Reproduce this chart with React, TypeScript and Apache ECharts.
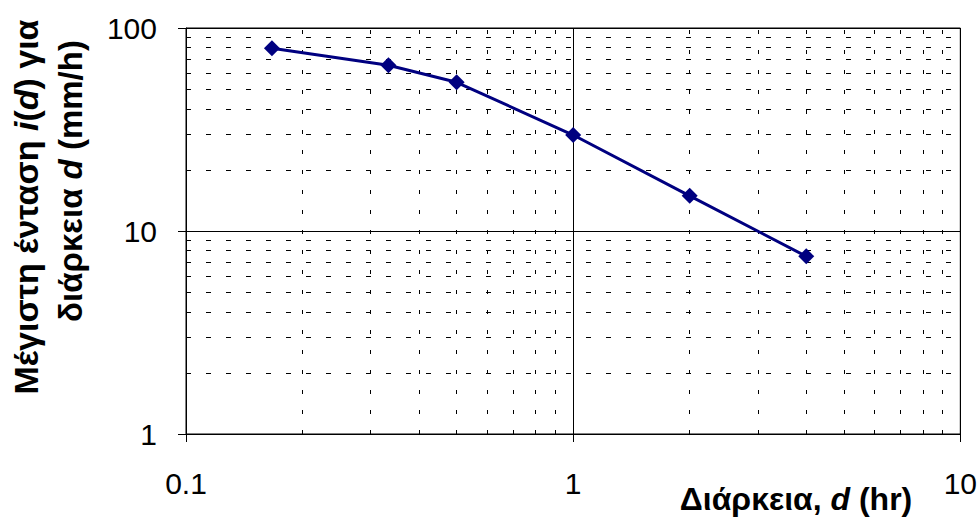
import React, { useEffect, useRef } from "react";
import * as echarts from "echarts";

const durations = [0.1667, 0.3333, 0.5, 1, 2, 4];
const intensities = [79.5, 65.5, 54, 29.7, 14.9, 7.5];
const minorX = [0.2, 0.3, 0.4, 0.5, 0.6, 0.7, 0.8, 0.9, 2, 3, 4, 5, 6, 7, 8, 9];
const minorY = [2, 3, 4, 5, 6, 7, 8, 9, 20, 30, 40, 50, 60, 70, 80, 90];
const xTitle = "Διάρκεια, d (hr)";
const yTitleLine1 = "{b|Μέγιστη ένταση }{i|i}{b|(}{i|d}{b|) για}";
const yTitleLine2 = "{b|διάρκεια }{i|d}{b| (mm/h)}";

const FONT = "'Liberation Sans', Arial, sans-serif";

const richStyle = (size: number) => ({
  b: { fontSize: size, fontWeight: "bold", fontFamily: FONT, fill: "#000" },
  i: { fontSize: size, fontWeight: "bold", fontStyle: "italic", fontFamily: FONT, fill: "#000" },
});

export default function App() {
  const ref = useRef<HTMLDivElement>(null);
  useEffect(() => {
    const chart = echarts.init(ref.current!, undefined, { renderer: "svg" });
    const data = durations.map((d, i) => [d, intensities[i]]);
    chart.setOption({
      animation: false,
      backgroundColor: "#fff",
      grid: {
        left: 186,
        right: 18,
        top: 28,
        bottom: 88,
        show: true,
        borderColor: "#000",
        borderWidth: 1,
        backgroundColor: "transparent",
      },
      xAxis: {
        type: "log",
        logBase: 10,
        min: 0.1,
        max: 10,
        axisLine: { show: true, lineStyle: { color: "#000", width: 1 } },
        axisTick: { show: true, length: 8, lineStyle: { color: "#000" } },
        axisLabel: {
          margin: 34,
          color: "#000",
          fontSize: 30,
          fontFamily: FONT,
          formatter: (v: number) => String(v),
        },
        splitLine: { show: true, lineStyle: { color: "#000", width: 1 } },
      },
      yAxis: {
        type: "log",
        logBase: 10,
        min: 1,
        max: 100,
        axisLine: { show: true, lineStyle: { color: "#000", width: 1 } },
        axisTick: { show: true, length: 8, lineStyle: { color: "#000" } },
        axisLabel: {
          margin: 29,
          color: "#000",
          fontSize: 30,
          fontFamily: FONT,
          formatter: (v: number) => String(v),
        },
        splitLine: { show: true, lineStyle: { color: "#000", width: 1 } },
      },
      graphic: [
        {
          type: "text",
          x: 26,
          y: 207,
          rotation: Math.PI / 2,
          style: {
            text: yTitleLine1,
            textAlign: "center",
            textVerticalAlign: "middle",
            rich: richStyle(34),
          },
        },
        {
          type: "text",
          x: 70,
          y: 181,
          rotation: Math.PI / 2,
          style: {
            text: yTitleLine2,
            textAlign: "center",
            textVerticalAlign: "middle",
            rich: richStyle(33),
          },
        },
        {
          type: "text",
          x: 796,
          y: 499,
          style: {
            text: "{b|Διάρκεια, }{i|d}{b| (hr)}",
            textAlign: "center",
            textVerticalAlign: "middle",
            rich: richStyle(32),
          },
        },
      ],
      series: [
        {
          name: "minor-grid",
          type: "line",
          data: data,
          showSymbol: false,
          lineStyle: { opacity: 0 },
          silent: true,
          z: 1,
          markLine: {
            silent: true,
            symbol: ["none", "none"],
            label: { show: false },
            lineStyle: { color: "#000", width: 1, type: [5, 15] },
            data: [
              ...minorX.map((v) => ({ xAxis: v, lineStyle: { type: [4, 16] } })),
              ...minorY.map((v) => ({ yAxis: v })),
            ],
          },
        },
        {
          name: xTitle,
          type: "line",
          data: data,
          z: 5,
          symbol: "diamond",
          symbolSize: 16,
          lineStyle: { color: "#000080", width: 3 },
          itemStyle: { color: "#000080" },
        },
      ],
    });
    return () => chart.dispose();
  }, []);
  return (
    <div
      ref={ref}
      style={{ position: "fixed", left: 0, top: 0, width: 980, height: 522 }}
    />
  );
}
